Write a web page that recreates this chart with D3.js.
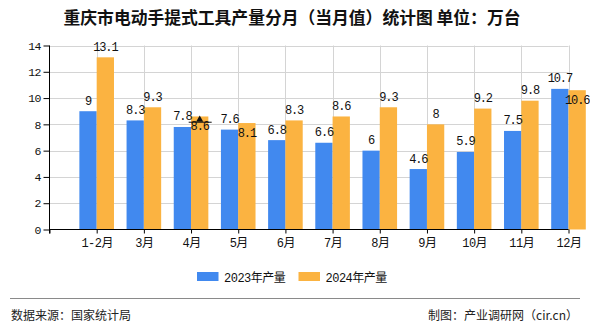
<!DOCTYPE html>
<html><head><meta charset="utf-8">
<script src="https://cdn.jsdelivr.net/npm/d3@7"></script>
<style>
html,body{margin:0;padding:0;background:#fff;}
svg{display:block;}
</style></head>
<body><svg id="c" width="590" height="330"></svg>
<script>
const categories = ["1-2月","3月","4月","5月","6月","7月","8月","9月","10月","11月","12月"];
const series2023 = [9, 8.3, 7.8, 7.6, 6.8, 6.6, 6, 4.6, 5.9, 7.5, 10.7];
const series2024 = [13.1, 9.3, 8.6, 8.1, 8.3, 8.6, 9.3, 8, 9.2, 9.8, 10.6];
const seriesNames = ["2023年产量", "2024年产量"];
const yTicks = [0, 2, 4, 6, 8, 10, 12, 14];
const title = "重庆市电动手提式工具产量分月（当月值）统计图 单位：万台";
const source = "数据来源：国家统计局";
const credit = "制图：产业调研网（cir.cn）";
const marker = {category: "4月", value: 8.2};

const colors = ["#4189ef", "#fbb341"];
const numFont = "'Liberation Mono','Noto Sans CJK SC',monospace";
const cjkFont = "'Noto Sans CJK SC','Noto Sans',sans-serif";

const svg = d3.select("#c");
const pLeft = 49.5, pRight = 568.5, pTop = 45.5, pBottom = 229.5;

const x = d3.scaleLinear().domain([0, categories.length + 1 - 1]).range([pLeft, pRight]);
const xPos = c => x(categories.indexOf(c) + 1);
const y = d3.scaleLinear().domain([0, 14]).range([pBottom, pTop]);
const sub = d3.scaleBand().domain(seriesNames).range([-17.3, 17.3]).padding(0);

// title
svg.append("text").attr("x", 292).attr("y", 24).attr("text-anchor", "middle")
  .attr("font-family", cjkFont).attr("font-size", 16.8).attr("font-weight", "bold")
  .attr("fill", "#111").text(title);

// grid
const g = svg.append("g");
g.selectAll("line.h").data(yTicks.filter(d => d > 0)).enter().append("line")
  .attr("x1", pLeft).attr("x2", pRight).attr("y1", d => Math.round(y(d)) + 0.5).attr("y2", d => Math.round(y(d)) + 0.5)
  .attr("stroke", "#d4d4d4").attr("stroke-width", 1);
g.selectAll("line.v").data(d3.range(1, categories.length + 1)).enter().append("line")
  .attr("x1", d => Math.round(x(d)) + 0.5).attr("x2", d => Math.round(x(d)) + 0.5)
  .attr("y1", pTop).attr("y2", pBottom)
  .attr("stroke", "#d4d4d4").attr("stroke-width", 1);

// bars
const rows = categories.map((c, i) => ({c, vals: [series2023[i], series2024[i]]}));
const bars = svg.append("g");
rows.forEach(r => {
  r.vals.forEach((v, k) => {
    bars.append("rect")
      .attr("x", xPos(r.c) + sub(seriesNames[k]))
      .attr("y", y(v))
      .attr("width", sub.bandwidth())
      .attr("height", y(0) - y(v))
      .attr("fill", colors[k]);
  });
});

// labels with simple collision avoidance
const labels = svg.append("g").attr("font-family", numFont).attr("font-size", 12).attr("fill", "#111")
  .attr("letter-spacing", "-1.1px");
rows.forEach(r => {
  const ly = r.vals.map(v => y(v) - 6.5);
  const below = Math.abs(ly[0] - ly[1]) < 12;
  r.vals.forEach((v, k) => {
    let yy = ly[k];
    if (below && k === 1) yy = y(v) + 14;
    labels.append("text")
      .attr("x", xPos(r.c) + sub(seriesNames[k]) + sub.bandwidth() / 2)
      .attr("y", yy).attr("text-anchor", "middle").text(v);
  });
});

// marker annotation
const mx = xPos(marker.category) + sub(seriesNames[1]) + sub.bandwidth() / 2;
const my = y(marker.value);
svg.append("line").attr("x1", mx - 11).attr("x2", mx + 12).attr("y1", my + 0.5).attr("y2", my + 0.5)
  .attr("stroke", "#111").attr("stroke-width", 1);
svg.append("path").attr("d", d3.symbol(d3.symbolTriangle, 22)())
  .attr("transform", `translate(${mx},${my - 2})`).attr("fill", "#111");

// y axis
const yAxis = d3.axisLeft(y).tickValues(yTicks).tickSize(6).tickPadding(3).tickFormat(d3.format("d"));
const ya = svg.append("g").attr("transform", `translate(${pLeft},0)`).call(yAxis);
ya.select(".domain").attr("d", `M0,${pTop}V${pBottom + 4}`).attr("stroke", "#000");
ya.selectAll(".tick line").attr("stroke", "#000");
ya.selectAll("text").attr("font-family", numFont).attr("font-size", 11.5).attr("fill", "#111")
  .attr("letter-spacing", "-0.8px");

// x axis
const xAxis = d3.axisBottom(x).tickValues(d3.range(0, categories.length + 1)).tickSize(4).tickPadding(5)
  .tickFormat(d => d >= 1 && d <= categories.length ? categories[d - 1] : "");
const xa = svg.append("g").attr("transform", `translate(0,${pBottom})`).call(xAxis);
xa.select(".domain").attr("d", `M${pLeft},0H${pRight}`).attr("stroke", "#000");
xa.selectAll(".tick line").attr("stroke", "#000");
xa.selectAll("text").attr("font-family", numFont).attr("font-size", 12).attr("fill", "#111")
  .attr("letter-spacing", "-0.5px");

// legend
const legend = svg.append("g").attr("transform", "translate(197,272)");
const lx = [0, 101.5];
seriesNames.forEach((n, k) => {
  legend.append("rect").attr("x", lx[k]).attr("y", 0).attr("width", 21.5).attr("height", 9).attr("fill", colors[k]);
  legend.append("text").attr("x", lx[k] + 27).attr("y", 9.5).attr("font-family", numFont)
    .attr("font-size", 12).attr("fill", "#111").attr("letter-spacing", "-0.5px").text(n);
});

// footer
svg.append("line").attr("x1", 10).attr("x2", 580).attr("y1", 298.5).attr("y2", 298.5)
  .attr("stroke", "#8a8a8a").attr("stroke-width", 1);
svg.append("text").attr("x", 11).attr("y", 320).attr("font-family", cjkFont).attr("font-size", 12)
  .attr("fill", "#222").text(source);
svg.append("text").attr("x", 578).attr("y", 320).attr("text-anchor", "end").attr("font-family", cjkFont)
  .attr("font-size", 12).attr("fill", "#222").text(credit);
</script>
</body></html>
